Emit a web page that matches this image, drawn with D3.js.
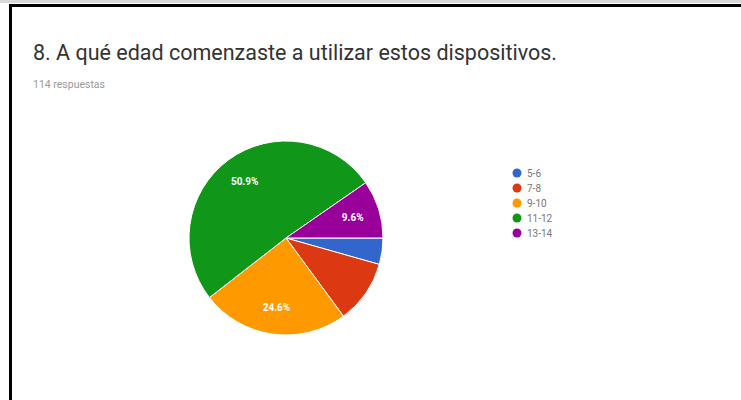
<!DOCTYPE html>
<html>
<head>
<meta charset="utf-8">
<script src="https://cdn.jsdelivr.net/npm/d3@7"></script>
<style>
  html, body { margin: 0; padding: 0; background: #fff; }
  svg { display: block; }
</style>
</head>
<body>
<svg id="chart" width="741" height="400"></svg>
<script>
const title = "8. A qué edad comenzaste a utilizar estos dispositivos.";
const subtitle = "114 respuestas";
const categories = ["5-6", "7-8", "9-10", "11-12", "13-14"];
const values = [5, 12, 28, 58, 11];
const colors = ["#3366cc", "#dc3912", "#ff9900", "#109618", "#990099"];
const labelledCategories = ["9-10", "11-12", "13-14"];

const svg = d3.select("#chart");

// frame (cropped screenshot border: top and left)
svg.append("rect").attr("x", 0).attr("y", 0).attr("width", 741).attr("height", 3).attr("fill", "#d8d8d8");
svg.append("rect").attr("x", 9).attr("y", 4).attr("width", 732).attr("height", 3).attr("fill", "#000");
svg.append("rect").attr("x", 9).attr("y", 4).attr("width", 3).attr("height", 396).attr("fill", "#000");

svg.append("text")
  .attr("x", 33).attr("y", 60)
  .attr("font-family", "Roboto, 'Open Sans', sans-serif")
  .attr("font-size", 21.5)
  .attr("fill", "#333")
  .text(title);

svg.append("text")
  .attr("x", 33).attr("y", 88)
  .attr("font-family", "Roboto, sans-serif")
  .attr("font-size", 10.5)
  .attr("fill", "#9a9a9a")
  .text(subtitle);

const cx = 286, cy = 238, r = 97;
const total = d3.sum(values);
const data = categories.map((c, i) => ({ cat: c, value: values[i], color: colors[i] }));

const pie = d3.pie().sort(null).value(d => d.value)
  .startAngle(Math.PI / 2).endAngle(Math.PI / 2 + 2 * Math.PI);
const arcs = pie(data);
const arc = d3.arc().innerRadius(0).outerRadius(r);
const labelArc = d3.arc().innerRadius(r * 0.72).outerRadius(r * 0.72);

const g = svg.append("g").attr("transform", `translate(${cx},${cy})`);
g.selectAll("path").data(arcs).join("path")
  .attr("d", arc)
  .attr("fill", d => d.data.color)
  .attr("stroke", "#fff")
  .attr("stroke-width", 1);

const fmt = d3.format(".1%");
g.selectAll("text.lbl").data(arcs.filter(d => labelledCategories.includes(d.data.cat))).join("text")
  .attr("class", "lbl")
  .attr("transform", d => `translate(${labelArc.centroid(d)})`)
  .attr("text-anchor", "middle")
  .attr("dy", "0.35em")
  .attr("font-family", "Roboto, sans-serif")
  .attr("font-size", 10)
  .attr("font-weight", "bold")
  .attr("fill", "#fff")
  .text(d => fmt(d.data.value / total));

const legend = svg.append("g");
const ly = d3.scalePoint().domain(categories).range([173, 233]);
const items = legend.selectAll("g").data(data).join("g")
  .attr("transform", d => `translate(517,${ly(d.cat)})`);
items.append("circle").attr("r", 4.5).attr("fill", d => d.color);
items.append("text")
  .attr("x", 10).attr("dy", "0.35em")
  .attr("font-family", "Roboto, sans-serif")
  .attr("font-size", 10)
  .attr("fill", "#777")
  .text(d => d.cat);
</script>
</body>
</html>
